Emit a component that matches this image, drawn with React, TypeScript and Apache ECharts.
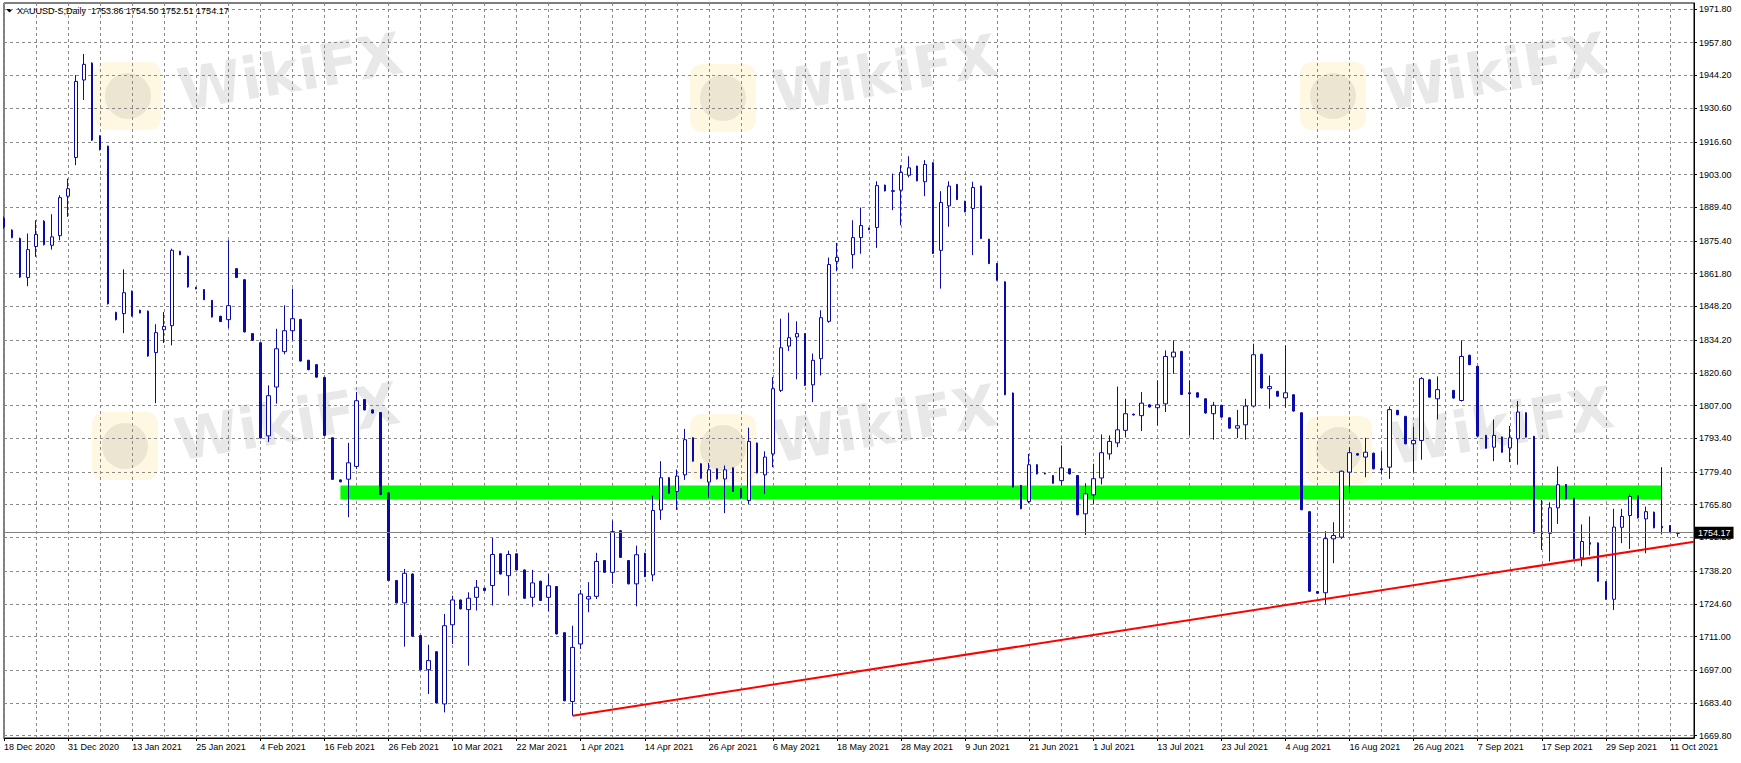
import React, { useEffect, useRef } from 'react';
import * as echarts from 'echarts';

const TITLE_TEXT = 'XAUUSD-S,Daily  1753.86 1754.50 1752.51 1754.17';
const FIRST_DAY = '2020-12-18';
const HOLIDAYS = ['2020-12-25', '2021-01-01', '2021-04-02'];
const MONTHS = ['Jan', 'Feb', 'Mar', 'Apr', 'May', 'Jun', 'Jul', 'Aug', 'Sep', 'Oct', 'Nov', 'Dec'];
const BLANK_BARS = 2;

const opens: (number | null)[] = [
  1884.7, 1879.9, 1876.4, 1860.2, 1873.1, 1883.6, 1873.6, 1877.6, 1894.0, 1910.1,
  1942.3, 1949.3, 1919.0, 1914.8, 1845.7, 1845.2, 1854.5, 1846.6, 1846.2, 1829.0,
  1838.5, 1840.2, 1871.1, 1869.0, 1856.1, 1855.2, 1850.7, 1844.1, 1842.7, 1863.9,
  1859.3, 1836.9, 1833.1, 1794.4, 1814.7, 1829.4, 1838.1, 1842.8, 1825.8, 1824.0,
  1818.7, 1793.6, 1776.1, 1776.4, 1781.7, 1809.5, 1805.2, 1804.1, 1770.7, 1734.3,
  1725.0, 1737.0, 1711.4, 1697.2, 1704.7, 1683.0, 1715.9, 1726.2, 1722.2, 1727.3,
  1731.1, 1732.2, 1745.4, 1736.3, 1745.4, 1738.7, 1727.3, 1734.0, 1727.3, 1731.8,
  1712.6, 1684.0, 1707.9, 1726.6, 1727.7, 1742.6, 1737.7, 1755.0, 1742.6, 1732.9,
  1745.6, 1736.6, 1763.6, 1777.0, 1771.3, 1778.2, 1793.6, 1782.8, 1775.2, 1780.7,
  1776.5, 1781.1, 1772.4, 1767.5, 1791.4, 1778.2, 1786.9, 1813.3, 1831.7, 1835.5,
  1836.9, 1815.6, 1826.5, 1842.0, 1866.9, null, 1869.7, 1876.8, 1880.7, 1881.0,
  1898.6, 1896.0, 1896.5, 1902.7, 1906.5, 1900.0, 1907.9, 1871.5, 1890.0, 1898.9,
  1891.9, 1888.9, 1898.2, 1876.1, 1866.0, 1858.4, 1812.2, 1773.8, 1767.1, 1782.4,
  1778.9, 1777.9, 1775.8, 1780.7, 1777.9, 1762.0, 1769.9, 1776.9, 1786.9, 1791.5,
  1796.7, 1803.4, 1802.8, 1807.3, 1806.1, 1807.7, 1827.2, 1829.5, 1812.3, 1812.3,
  1809.8, 1803.6, 1807.1, 1801.9, 1797.6, 1799.0, 1806.8, 1828.3, 1814.0, 1812.9,
  1810.2, 1811.5, 1804.0, 1762.9, 1729.7, 1729.2, 1751.6, 1752.3, 1779.3, 1787.0,
  1785.6, 1787.2, 1780.7, 1781.4, 1805.0, 1802.5, 1791.1, 1792.5, 1817.7, 1809.8,
  null, 1813.3, 1809.1, 1827.9, 1823.3, 1794.6, 1789.7, 1793.9, 1789.4, 1793.2,
  1804.0, 1794.2, 1754.2, 1753.9, 1764.5, 1774.2, 1768.5, 1743.7, 1750.0, 1749.9,
  1733.8, 1726.5, 1756.4, 1761.3, 1769.6, 1759.9, 1762.7, 1756.8, 1757.1, 1753.86,
];

const closes: (number | null)[] = [
  1881.2, 1876.8, 1860.4, 1871.8, 1878.1, 1873.9, 1877.1, 1893.4, 1897.1, 1941.7,
  1948.8, 1917.3, 1913.4, 1849.3, 1842.7, 1853.9, 1844.2, 1845.5, 1827.6, 1837.3,
  1839.9, 1871.5, 1869.7, 1856.3, 1855.5, 1851.0, 1843.8, 1841.9, 1848.5, 1860.2,
  1837.6, 1834.1, 1793.5, 1811.1, 1830.6, 1838.1, 1843.1, 1825.5, 1821.9, 1818.8,
  1794.6, 1776.3, 1775.3, 1783.2, 1809.0, 1805.2, 1803.9, 1770.0, 1734.3, 1725.0,
  1737.3, 1711.1, 1697.2, 1701.0, 1683.4, 1715.5, 1726.2, 1722.5, 1726.9, 1731.5,
  1730.1, 1745.1, 1737.0, 1745.1, 1738.7, 1726.9, 1733.3, 1726.0, 1732.1, 1712.1,
  1684.3, 1706.5, 1728.7, 1727.6, 1742.2, 1737.7, 1754.6, 1743.9, 1732.9, 1745.0,
  1735.9, 1763.4, 1777.0, 1770.6, 1777.7, 1792.8, 1783.9, 1776.8, 1780.3, 1776.5,
  1780.3, 1771.3, 1768.6, 1792.1, 1779.0, 1785.6, 1814.0, 1831.0, 1835.2, 1836.9,
  1815.4, 1825.8, 1843.5, 1865.6, 1868.6, null, 1876.8, 1881.8, 1880.1, 1898.4,
  1896.2, 1896.3, 1903.9, 1905.8, 1900.4, 1907.2, 1870.2, 1891.4, 1898.2, 1892.6,
  1887.5, 1897.6, 1876.4, 1866.0, 1859.1, 1811.5, 1773.1, 1764.1, 1782.4, 1778.6,
  1778.6, 1774.7, 1781.1, 1778.6, 1761.6, 1770.3, 1776.6, 1787.4, 1792.1, 1796.9,
  1803.6, 1803.1, 1808.0, 1806.4, 1807.3, 1827.4, 1829.2, 1811.6, 1811.9, 1810.5,
  1803.9, 1807.1, 1802.2, 1797.6, 1798.6, 1806.8, 1828.1, 1814.3, 1814.9, 1810.9,
  1812.3, 1804.7, 1763.7, 1729.8, 1729.0, 1751.7, 1753.0, 1779.7, 1787.4, 1786.4,
  1787.6, 1780.7, 1780.3, 1805.3, 1803.2, 1791.1, 1792.5, 1818.2, 1810.5, 1813.6,
  null, 1810.1, 1827.4, 1824.0, 1794.3, 1789.3, 1794.6, 1787.6, 1793.6, 1804.3,
  1793.9, 1753.9, 1753.7, 1764.5, 1774.1, 1768.2, 1743.3, 1750.5, 1749.4, 1734.0,
  1726.5, 1756.5, 1760.9, 1769.2, 1760.3, 1762.9, 1756.2, 1756.2, 1754.4, 1754.17,
];

const lows: (number | null)[] = [
  1880.5, 1876.5, 1860.0, 1856.6, 1868.8, 1873.5, 1871.8, 1875.7, 1885.4, 1906.9,
  1934.0, 1917.0, 1913.0, 1849.0, 1842.4, 1837.1, 1844.0, 1845.3, 1827.3, 1808.0,
  1833.0, 1832.0, 1869.5, 1856.0, 1855.3, 1850.8, 1843.6, 1841.7, 1839.2, 1860.0,
  1837.4, 1833.9, 1793.3, 1791.8, 1807.8, 1828.3, 1834.1, 1825.3, 1821.7, 1818.6,
  1794.4, 1776.1, 1775.1, 1760.6, 1780.7, 1805.0, 1803.7, 1769.8, 1734.1, 1724.8,
  1706.8, 1710.9, 1697.0, 1687.1, 1683.2, 1679.5, 1707.9, 1722.3, 1698.9, 1721.8,
  1729.9, 1723.9, 1736.8, 1728.0, 1738.5, 1726.7, 1723.4, 1725.8, 1721.5, 1711.9,
  1684.1, 1678.1, 1705.8, 1721.1, 1726.6, 1737.5, 1732.9, 1743.7, 1732.7, 1723.6,
  1735.7, 1734.0, 1759.5, 1770.4, 1763.6, 1776.1, 1783.7, 1776.6, 1768.6, 1776.3,
  1762.3, 1771.1, 1768.4, 1766.1, 1778.8, 1770.3, 1781.4, 1812.6, 1829.7, 1817.9,
  1815.2, 1808.4, 1819.5, 1841.4, 1862.8, null, 1863.9, 1870.1, 1879.9, 1872.5,
  1896.0, 1888.2, 1881.9, 1901.8, 1900.2, 1894.0, 1870.0, 1855.6, 1881.3, 1892.4,
  1887.3, 1869.5, 1876.2, 1865.8, 1858.9, 1811.3, 1772.9, 1763.9, 1766.4, 1778.4,
  1778.4, 1774.5, 1773.8, 1778.4, 1761.4, 1753.2, 1765.9, 1774.2, 1784.5, 1789.7,
  1793.9, 1802.9, 1796.4, 1806.2, 1798.7, 1804.3, 1820.2, 1811.4, 1794.6, 1810.3,
  1803.7, 1792.8, 1802.0, 1797.4, 1793.5, 1792.8, 1806.4, 1814.1, 1805.7, 1810.7,
  1806.1, 1804.5, 1763.5, 1729.6, 1728.8, 1724.4, 1741.5, 1751.6, 1770.6, 1786.2,
  1777.2, 1780.5, 1778.4, 1776.5, 1803.0, 1790.9, 1779.3, 1784.5, 1810.3, 1801.2,
  null, 1809.9, 1808.7, 1823.8, 1794.1, 1789.1, 1783.9, 1787.4, 1783.5, 1782.4,
  1793.7, 1753.7, 1747.0, 1742.2, 1757.8, 1768.0, 1743.1, 1740.2, 1744.7, 1733.8,
  1726.3, 1722.0, 1749.8, 1747.4, 1760.1, 1745.6, 1756.0, 1753.4, 1754.2, 1752.51,
];

const highs: (number | null)[] = [
  1885.5, 1880.2, 1876.8, 1878.5, 1884.0, 1884.0, 1886.5, 1894.4, 1901.3, 1944.3,
  1953.1, 1949.6, 1919.3, 1915.0, 1846.0, 1863.6, 1854.8, 1846.8, 1846.5, 1840.8,
  1845.9, 1872.2, 1871.3, 1869.3, 1856.3, 1855.4, 1850.9, 1844.3, 1875.7, 1864.1,
  1859.5, 1837.1, 1833.3, 1815.4, 1838.9, 1848.7, 1855.6, 1843.0, 1826.0, 1824.2,
  1818.9, 1793.8, 1776.3, 1791.5, 1812.6, 1809.7, 1805.4, 1804.3, 1770.9, 1734.5,
  1739.1, 1737.2, 1711.6, 1707.6, 1704.9, 1720.4, 1728.0, 1726.4, 1729.4, 1734.5,
  1731.3, 1752.0, 1745.6, 1746.7, 1745.6, 1738.9, 1738.7, 1734.2, 1737.0, 1732.0,
  1712.8, 1715.5, 1730.4, 1733.6, 1745.8, 1742.8, 1759.2, 1755.2, 1742.8, 1748.8,
  1745.8, 1769.6, 1783.9, 1777.2, 1780.4, 1797.3, 1793.8, 1783.0, 1783.1, 1780.9,
  1782.1, 1781.3, 1772.6, 1797.8, 1791.6, 1788.0, 1818.8, 1843.1, 1845.6, 1842.0,
  1837.1, 1828.6, 1846.6, 1868.5, 1874.6, null, 1884.0, 1889.3, 1880.9, 1900.2,
  1898.8, 1903.4, 1906.9, 1910.6, 1906.7, 1909.0, 1908.1, 1896.1, 1900.2, 1899.1,
  1892.1, 1900.0, 1898.4, 1876.3, 1866.2, 1858.6, 1812.4, 1774.0, 1786.9, 1782.6,
  1779.1, 1778.1, 1790.4, 1780.9, 1778.1, 1774.7, 1782.8, 1795.0, 1794.6, 1814.9,
  1809.8, 1803.6, 1812.6, 1807.5, 1817.5, 1829.9, 1834.1, 1829.7, 1817.5, 1812.5,
  1810.0, 1808.5, 1807.3, 1802.1, 1805.2, 1809.8, 1832.7, 1828.5, 1819.5, 1813.1,
  1832.0, 1811.7, 1804.2, 1763.1, 1729.9, 1754.8, 1758.5, 1780.0, 1789.7, 1787.2,
  1793.6, 1787.4, 1788.3, 1806.6, 1805.2, 1802.7, 1798.3, 1818.8, 1817.9, 1819.1,
  null, 1813.5, 1834.1, 1828.1, 1823.5, 1794.8, 1801.2, 1794.1, 1798.5, 1808.9,
  1804.2, 1794.4, 1767.8, 1766.8, 1781.7, 1774.4, 1768.7, 1757.6, 1760.9, 1750.1,
  1734.0, 1764.1, 1764.1, 1770.3, 1769.8, 1765.0, 1762.9, 1781.4, 1757.3, 1754.50,
];

const priceTicks = [
  '1669.80', '1683.40', '1697.00', '1711.00', '1724.60', '1738.20', '1752.20', '1765.80',
  '1779.40', '1793.40', '1807.00', '1820.60', '1834.20', '1848.20', '1861.80', '1875.40',
  '1889.40', '1903.00', '1916.60', '1930.60', '1944.20', '1957.80', '1971.80',
];

const lastPrice = 1754.17;
const zoneBars = [42, 207];
const zonePrices = [1773.8, 1768.0];
const trendFrom = [71, 1678.1];
const trendTo = [211, 1750.4];

const Y_MIN = 1668.84;
const Y_MAX = 1974.29;

const BLUE = '#0a0aa8';
const GRID_GRAY = '#8a8a8a';
const FONT = '"Liberation Sans", Arial, sans-serif';

const WATERMARK_SPOTS = [
  [95, 62], [690, 64], [1300, 62],
  [92, 412], [690, 414], [1306, 416],
];

function buildCategories(n: number): string[] {
  const out: string[] = [];
  const d = new Date(FIRST_DAY + 'T00:00:00Z');
  while (out.length < n) {
    const wd = d.getUTCDay();
    const iso = d.toISOString().slice(0, 10);
    if (wd !== 0 && wd !== 6 && HOLIDAYS.indexOf(iso) < 0) {
      out.push(`${d.getUTCDate()} ${MONTHS[d.getUTCMonth()]} ${d.getUTCFullYear()}`);
    }
    d.setUTCDate(d.getUTCDate() + 1);
  }
  return out;
}

function watermark(x: number, y: number) {
  return {
    type: 'group',
    x,
    y,
    silent: true,
    children: [
      {
        type: 'rect',
        z: -10,
        shape: { x: 0, y: 0, width: 66, height: 68, r: 12 },
        style: { fill: 'rgba(252,218,120,0.22)' },
      },
      {
        type: 'circle',
        z: -10,
        shape: { cx: 33, cy: 34, r: 23 },
        style: { fill: 'rgba(110,110,110,0.13)' },
      },
      {
        type: 'text',
        z: -10,
        x: 195,
        y: 10,
        rotation: 0.17,
        style: {
          text: 'WikiFX',
          fill: 'rgba(0,0,0,0.09)',
          font: 'bold 58px "DejaVu Sans", sans-serif',
          textAlign: 'center',
          textVerticalAlign: 'middle',
        },
      },
    ],
  };
}

function buildOption() {
  const days = buildCategories(opens.length);
  const categories = days.concat(Array(BLANK_BARS).fill(''));
  const empty = ['-', '-', '-', '-'];
  const bullData = opens.map((o, i) => {
    const c = closes[i];
    if (o == null || c == null) return empty;
    return c >= o ? [o, c, lows[i], highs[i]] : empty;
  });
  const bearData = opens.map((o, i) => {
    const c = closes[i];
    if (o == null || c == null) return empty;
    return c < o ? [o, c, lows[i], highs[i]] : empty;
  });
  const tickValues = priceTicks.map(Number);

  return {
    animation: false,
    backgroundColor: '#ffffff',
    textStyle: { fontFamily: FONT },
    title: {
      text: TITLE_TEXT,
      left: 17,
      top: 6,
      padding: 0,
      textStyle: { fontSize: 9, fontWeight: 'normal', color: '#000', fontFamily: FONT },
    },
    grid: {
      left: 4,
      right: 47,
      top: 3,
      bottom: 25,
      show: true,
      borderColor: '#000',
      borderWidth: 1,
      backgroundColor: 'transparent',
    },
    xAxis: {
      type: 'category',
      data: categories,
      boundaryGap: false,
      axisLine: { lineStyle: { color: '#000', width: 1 } },
      axisTick: { show: true, interval: 7, length: 3, lineStyle: { color: '#000' } },
      axisLabel: {
        interval: 7,
        align: 'left',
        margin: 4,
        fontSize: 9,
        color: '#000',
        fontFamily: FONT,
      },
      splitLine: {
        show: true,
        interval: 3,
        lineStyle: { color: GRID_GRAY, type: [3, 3], width: 1 },
      },
    },
    yAxis: {
      type: 'value',
      position: 'right',
      min: Y_MIN,
      max: Y_MAX,
      axisLine: { show: true, lineStyle: { color: '#000', width: 1 } },
      axisTick: { show: true, length: 3, customValues: tickValues, lineStyle: { color: '#000' } },
      axisLabel: {
        customValues: tickValues,
        formatter: (v: number) => v.toFixed(2),
        margin: 5,
        fontSize: 9,
        color: '#000',
        fontFamily: FONT,
      },
      splitLine: { show: true, lineStyle: { color: GRID_GRAY, type: [3, 3], width: 1 } },
    },
    graphic: [
      ...WATERMARK_SPOTS.map(([x, y]) => watermark(x, y)),
      {
        type: 'polygon',
        silent: true,
        shape: { points: [[6, 9], [13, 9], [9.5, 12.5]] },
        style: { fill: '#000' },
      },
    ],
    series: [
      {
        type: 'candlestick',
        name: 'bull',
        data: bullData,
        barWidth: 4,
        clip: true,
        silent: true,
        itemStyle: {
          color: '#ffffff',
          color0: '#ffffff',
          borderColor: BLUE,
          borderColor0: BLUE,
          borderColorDoji: BLUE,
          borderWidth: 1,
        },
      },
      {
        type: 'candlestick',
        name: 'bear',
        data: bearData,
        barWidth: 2,
        clip: true,
        silent: true,
        itemStyle: {
          color: BLUE,
          color0: BLUE,
          borderColor: BLUE,
          borderColor0: BLUE,
          borderColorDoji: BLUE,
          borderWidth: 1,
        },
      },
      {
        type: 'line',
        name: 'objects',
        data: [],
        clip: false,
        silent: true,
        symbol: 'none',
        markArea: {
          silent: true,
          itemStyle: { color: '#00ff00', opacity: 1 },
          label: { show: false },
          data: [
            [
              { xAxis: zoneBars[0], yAxis: zonePrices[0] },
              { xAxis: zoneBars[1], yAxis: zonePrices[1] },
            ],
          ],
        },
        markLine: {
          silent: true,
          symbol: ['none', 'none'],
          animation: false,
          data: [
            [
              { coord: trendFrom, lineStyle: { color: '#ff0000', width: 2, type: 'solid' }, label: { show: false } },
              { coord: trendTo },
            ],
            {
              yAxis: lastPrice,
              lineStyle: { color: '#808080', width: 1, type: 'solid' },
              label: {
                show: true,
                position: 'end',
                distance: 1,
                formatter: lastPrice.toFixed(2),
                color: '#ffffff',
                backgroundColor: '#000000',
                padding: [2, 3, 1, 3],
                fontSize: 9,
                fontFamily: FONT,
              },
            },
          ],
        },
      },
    ],
  };
}

export default function App() {
  const ref = useRef<HTMLDivElement>(null);
  useEffect(() => {
    document.body.style.margin = '0';
    const chart = echarts.init(ref.current as HTMLDivElement, undefined, { renderer: 'svg' });
    chart.setOption(buildOption() as any);
    return () => {
      chart.dispose();
    };
  }, []);
  return (
    <div
      ref={ref}
      style={{ position: 'fixed', left: 0, top: 0, width: 1741, height: 763, background: '#ffffff' }}
    />
  );
}
